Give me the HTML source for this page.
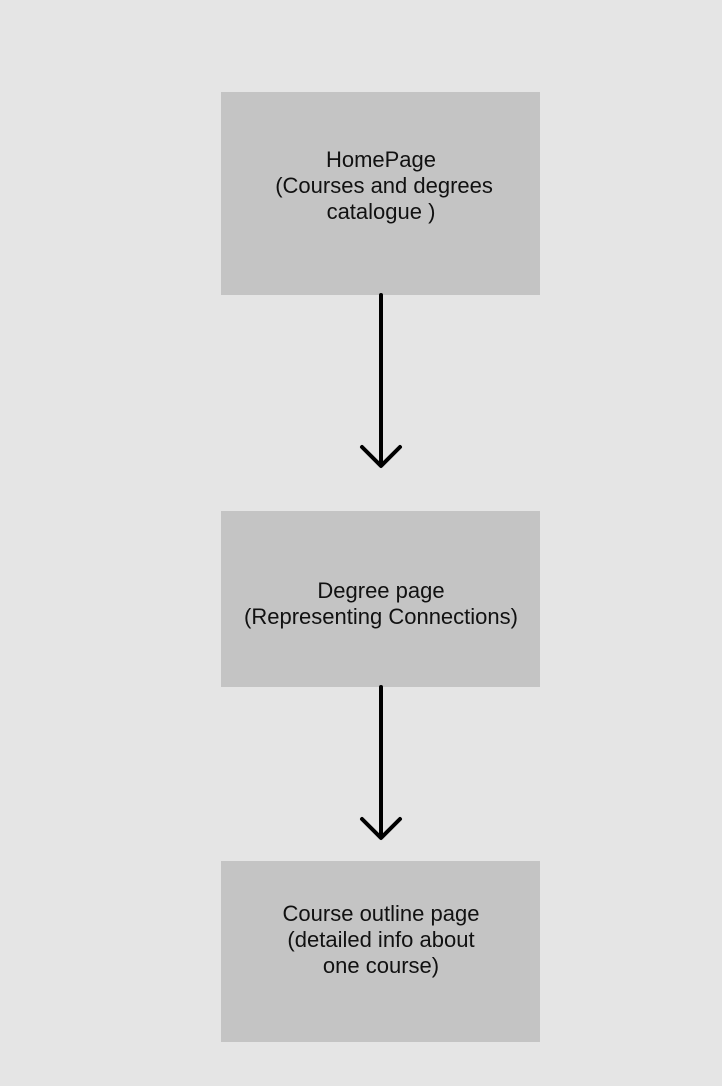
<!DOCTYPE html>
<html><head><style>
body{margin:0;width:722px;height:1086px;background:#e5e5e5;position:relative;overflow:hidden;font-family:"Liberation Sans",sans-serif;}
.b{position:absolute;left:221px;width:319px;background:#c4c4c4;}
.t{position:absolute;left:171px;width:420px;text-align:center;font-size:22px;line-height:26px;color:#111;}
svg{position:absolute;left:0;top:0}
</style></head><body>
<div class="b" style="top:92px;height:203px"></div>
<div class="b" style="top:511px;height:176px"></div>
<div class="b" style="top:861px;height:181px"></div>
<div class="t" style="top:147px">HomePage<br>&nbsp;(Courses and degrees<br>catalogue )</div>
<div class="t" style="top:578px">Degree page<br>(Representing Connections)</div>
<div class="t" style="top:901px">Course outline page<br>(detailed info about<br>one course)</div>
<svg width="722" height="1086">
<g stroke="#000" stroke-width="4" fill="none" stroke-linecap="round" stroke-linejoin="round">
<line x1="381" y1="295" x2="381" y2="464"/>
<polyline points="362,447 381,466 400,447"/>
<line x1="381" y1="687" x2="381" y2="836"/>
<polyline points="362,819 381,838 400,819"/>
</g></svg>
</body></html>
